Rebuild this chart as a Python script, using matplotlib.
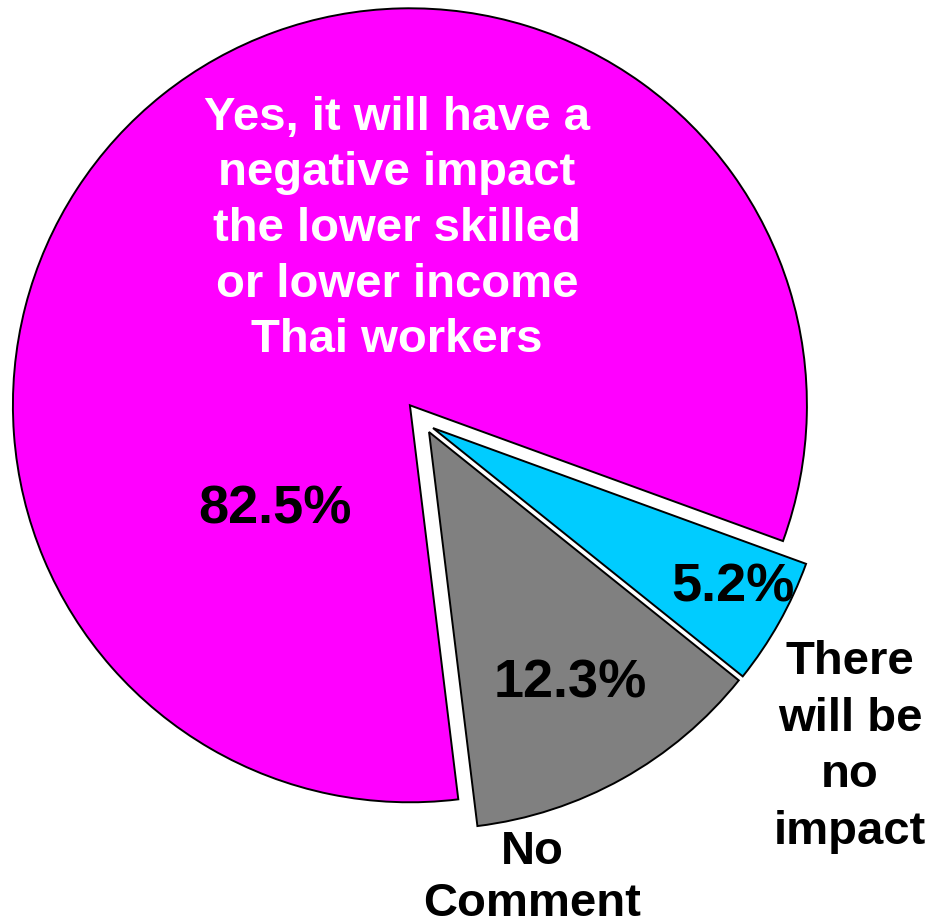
import matplotlib
matplotlib.use("Agg")
import matplotlib.pyplot as plt

# Data
categories = ["Yes, it will have a\nnegative impact\nthe lower skilled\nor lower income\nThai workers",
              "There\nwill be\nno\nimpact",
              "No\nComment"]
values = [82.5, 5.2, 12.3]
pct_labels = ["82.5%", "5.2%", "12.3%"]
colors = ["#FF00FF", "#00CCFF", "#808080"]
explode = [0.057, 0.026, 0.026]

plt.rcParams['font.family'] = ['Liberation Sans', 'DejaVu Sans']

W, H = 933, 924
CX, CY, R = 424, 423, 397
fig = plt.figure(figsize=(W / 100, H / 100), dpi=100)
ax = fig.add_axes([0, 0, 1, 1])

wedges, _ = ax.pie(values, colors=colors, explode=explode, startangle=277,
                   counterclock=False, radius=1,
                   wedgeprops=dict(edgecolor="black", linewidth=1.4))

ax.set_xlim(-CX / R, (W - CX) / R)
ax.set_ylim(-(H - CY) / R, CY / R)
ax.set_aspect('auto')
ax.axis('off')

def px(x, y):
    return (x - CX) / R, (CY - y) / R

# category labels
ax.text(*px(397, 229), categories[0], color="white", fontsize=34, fontweight="bold",
        ha="center", va="center", linespacing=1.34)
ax.text(*px(850, 747), categories[1], color="black", fontsize=34, fontweight="bold",
        ha="center", va="center", linespacing=1.37)
ax.text(*px(532, 878), categories[2], color="black", fontsize=34, fontweight="bold",
        ha="center", va="center", linespacing=1.24)

# percentage labels
ax.text(*px(275, 510), pct_labels[0], color="black", fontsize=39, fontweight="bold",
        ha="center", va="center")
ax.text(*px(733, 587), pct_labels[1], color="black", fontsize=39, fontweight="bold",
        ha="center", va="center")
ax.text(*px(570, 683), pct_labels[2], color="black", fontsize=39, fontweight="bold",
        ha="center", va="center")

fig.savefig("out.png", dpi=100)
